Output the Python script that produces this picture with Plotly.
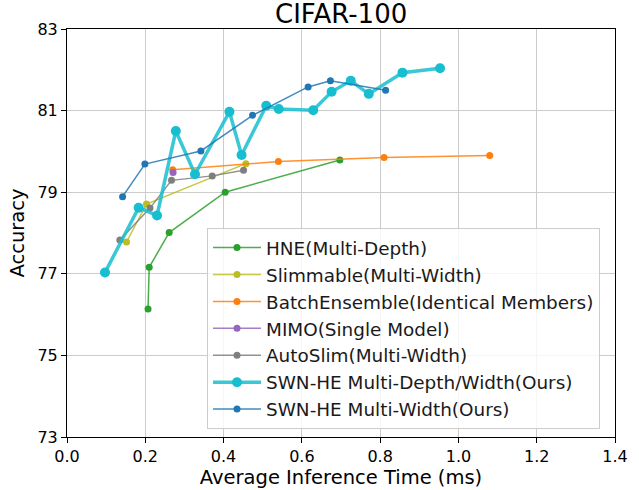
import plotly.graph_objects as go

# Data
hne_x = [0.207, 0.210, 0.261, 0.404, 0.697]
hne_y = [76.14, 77.16, 78.01, 79.00, 79.79]

slim_x = [0.152, 0.203, 0.457]
slim_y = [77.78, 78.71, 79.70]

be_x = [0.270, 0.540, 0.810, 1.080]
be_y = [79.55, 79.75, 79.85, 79.90]

mimo_x = [0.271]
mimo_y = [79.48]

auto_x = [0.135, 0.212, 0.267, 0.371, 0.451]
auto_y = [77.83, 78.61, 79.29, 79.40, 79.54]

swn_dw_x = [0.097, 0.183, 0.230, 0.278, 0.327, 0.415, 0.446, 0.509, 0.541,
            0.629, 0.676, 0.725, 0.771, 0.857, 0.953]
swn_dw_y = [77.03, 78.62, 78.43, 80.50, 79.44, 80.97, 79.91, 81.12, 81.04,
            81.01, 81.46, 81.73, 81.41, 81.93, 82.04]

swn_w_x = [0.142, 0.199, 0.342, 0.474, 0.616, 0.673, 0.814]
swn_w_y = [78.89, 79.69, 80.01, 80.885, 81.58, 81.73, 81.50]

x_ticks = [0.0, 0.2, 0.4, 0.6, 0.8, 1.0, 1.2, 1.4]
y_ticks = [73, 75, 77, 79, 81, 83]

series = [
    ("HNE(Multi-Depth)", hne_x, hne_y, "#2ca02c", 1.5, 7),
    ("Slimmable(Multi-Width)", slim_x, slim_y, "#bcbd22", 1.5, 7),
    ("BatchEnsemble(Identical Members)", be_x, be_y, "#ff7f0e", 1.5, 7),
    ("MIMO(Single Model)", mimo_x, mimo_y, "#9467bd", 1.5, 7),
    ("AutoSlim(Multi-Width)", auto_x, auto_y, "#7f7f7f", 1.5, 7),
    ("SWN-HE Multi-Depth/Width(Ours)", swn_dw_x, swn_dw_y, "#17becf", 3.5, 10),
    ("SWN-HE Multi-Width(Ours)", swn_w_x, swn_w_y, "#1f77b4", 1.5, 7),
]


def rgba(hexc, a):
    h = hexc.lstrip("#")
    r, g, b = int(h[0:2], 16), int(h[2:4], 16), int(h[4:6], 16)
    return f"rgba({r},{g},{b},{a})"


fig = go.Figure()
for i, (name, xs, ys, col, lw, ms) in enumerate(series):
    fig.add_trace(go.Scatter(
        x=xs, y=ys, name=name, mode="lines+markers",
        line=dict(color=rgba(col, 0.85), width=lw),
        marker=dict(color=col, size=ms),
        legendgroup=f"g{i}",
    ))

FONT = "DejaVu Sans"
fig.update_layout(
    width=639, height=490,
    margin=dict(l=67, r=24, t=29, b=53),
    paper_bgcolor="white", plot_bgcolor="white",
    font=dict(family=FONT, color="black", size=16),
    title=dict(text="CIFAR-100", x=0.5339, xanchor="center",
               y=1 - 14 / 490, yanchor="middle", yref="container",
               font=dict(size=26, family=FONT, color="black")),
    showlegend=True,
    legend=dict(
        x=0.2555, y=0.512, xanchor="left", yanchor="top",
        bgcolor="rgba(255,255,255,0.8)", bordercolor="#cccccc", borderwidth=1,
        font=dict(size=18.4, family=FONT, color="#1a1a1a"),
        traceorder="grouped", tracegroupgap=0, itemwidth=48,
    ),
)
fig.update_xaxes(
    range=[0, 1.4], tickvals=x_ticks, tickformat=".1f",
    showgrid=True, gridcolor="#cccccc", gridwidth=1,
    showline=True, linecolor="black", linewidth=1, mirror=True,
    ticks="outside", ticklen=5, tickcolor="black",
    tickfont=dict(size=16), zeroline=False, automargin=False,
    title=dict(text="Average Inference Time (ms)", font=dict(size=19.5), standoff=2),
)
fig.update_yaxes(
    range=[73, 83], tickvals=y_ticks,
    showgrid=True, gridcolor="#cccccc", gridwidth=1,
    showline=True, linecolor="black", linewidth=1, mirror=True,
    ticks="outside", ticklen=5, tickcolor="black",
    tickfont=dict(size=16), zeroline=False, automargin=False,
    title=dict(text="Accuracy", font=dict(size=19.5), standoff=7),
)

fig.write_html("out.html")
